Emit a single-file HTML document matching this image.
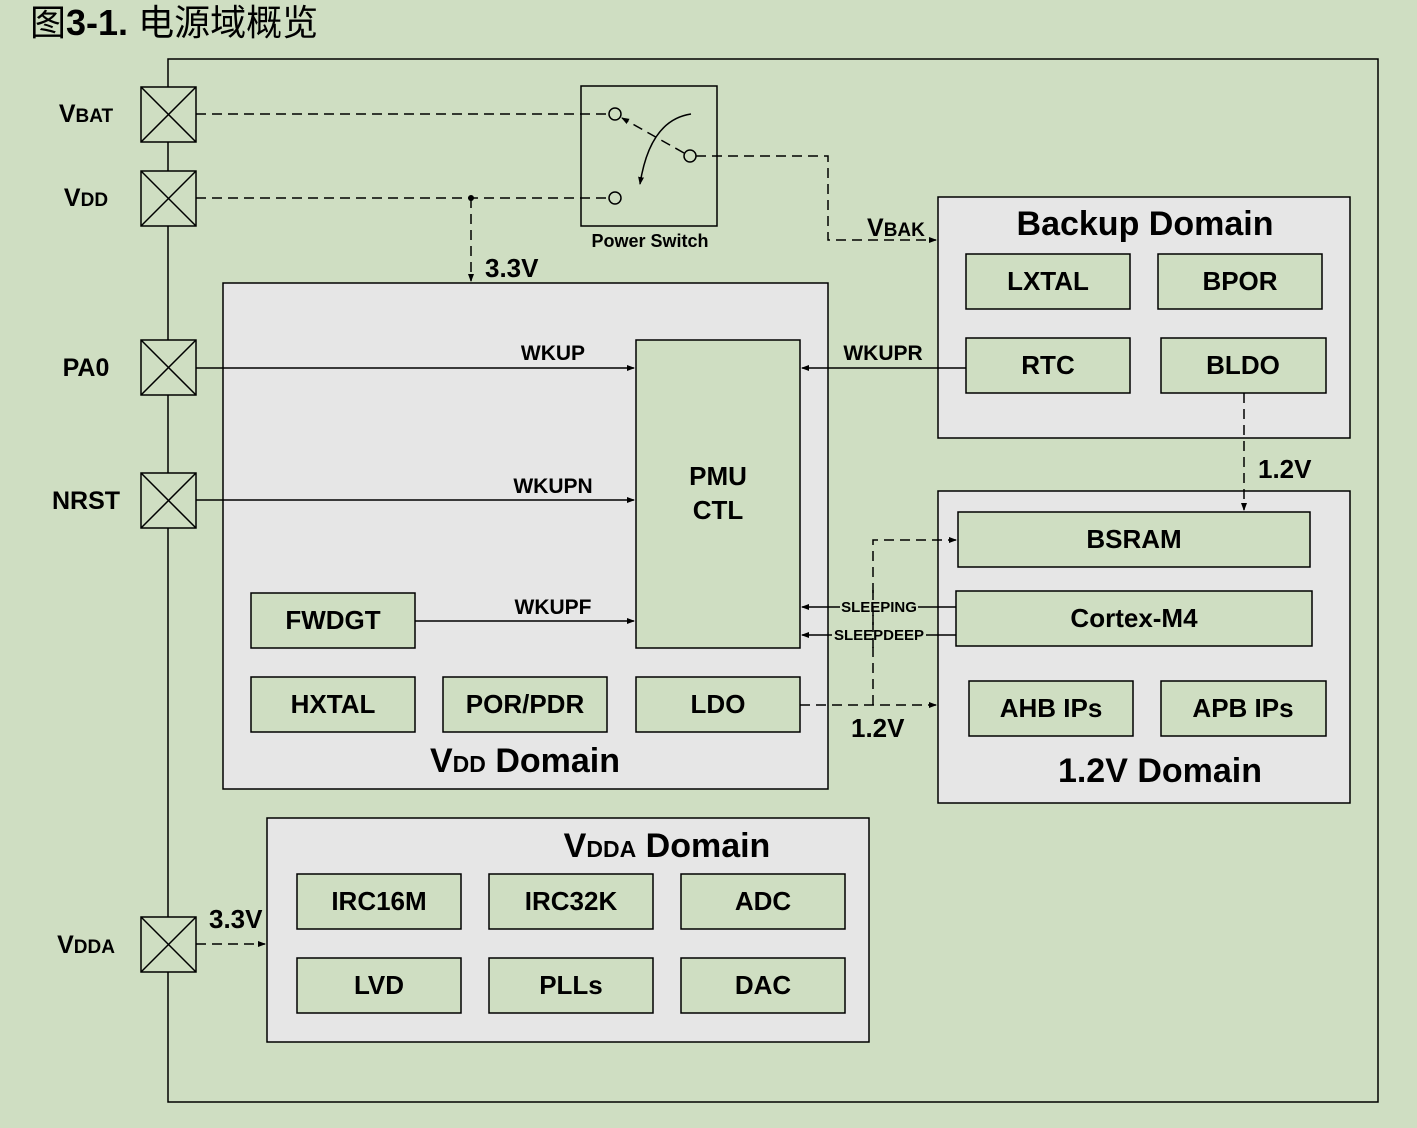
<!DOCTYPE html>
<html><head><meta charset="utf-8"><style>
html,body{margin:0;padding:0;background:#cfdec2;}
svg{display:block}
text{font-family:"Liberation Sans","Noto Sans CJK SC",sans-serif;font-weight:bold;fill:#000;}
</style></head><body>
<svg width="1417" height="1128" viewBox="0 0 1417 1128" xmlns="http://www.w3.org/2000/svg">
<defs>
<marker id="a" markerWidth="8" markerHeight="8" refX="7" refY="4" orient="auto" markerUnits="userSpaceOnUse"><path d="M0,1 L8,4 L0,7 z" fill="#000"/></marker>
</defs>
<rect width="1417" height="1128" fill="#cfdec2"/>
<text x="30" y="35" font-size="36" style="font-weight:normal">图<tspan style="font-weight:bold">3-1.</tspan> 电源域概览</text>

<g stroke="#000" stroke-width="1.5" fill="none">
<rect x="168" y="59" width="1210" height="1043"/>
</g>
<g stroke="#000" stroke-width="1.5" fill="#e6e6e6">
<rect x="223" y="283" width="605" height="506"/>
<rect x="938" y="197" width="412" height="241"/>
<rect x="938" y="491" width="412" height="312"/>
<rect x="267" y="818" width="602" height="224"/>
</g>
<g stroke="#000" stroke-width="1.5" fill="#cfdec2">
<rect x="141" y="87" width="55" height="55"/><path d="M141,87 L196,142 M196,87 L141,142"/>
<rect x="141" y="171" width="55" height="55"/><path d="M141,171 L196,226 M196,171 L141,226"/>
<rect x="141" y="340" width="55" height="55"/><path d="M141,340 L196,395 M196,340 L141,395"/>
<rect x="141" y="473" width="55" height="55"/><path d="M141,473 L196,528 M196,473 L141,528"/>
<rect x="141" y="917" width="55" height="55"/><path d="M141,917 L196,972 M196,917 L141,972"/>
</g>
<g font-size="25" text-anchor="middle">
<text x="86" y="122">V<tspan font-size="19">BAT</tspan></text>
<text x="86" y="206">V<tspan font-size="19">DD</tspan></text>
<text x="86" y="376">PA0</text>
<text x="86" y="509">NRST</text>
<text x="86" y="953">V<tspan font-size="19">DDA</tspan></text>
</g>
<g stroke="#000" stroke-width="1.5" fill="#cfdec2">
<rect x="581" y="86" width="136" height="140"/>
<rect x="636" y="340" width="164" height="308"/>
<rect x="966" y="254" width="164" height="55"/>
<rect x="1158" y="254" width="164" height="55"/>
<rect x="966" y="338" width="164" height="55"/>
<rect x="1161" y="338" width="165" height="55"/>
<rect x="958" y="512" width="352" height="55"/>
<rect x="956" y="591" width="356" height="55"/>
<rect x="969" y="681" width="164" height="55"/>
<rect x="1161" y="681" width="165" height="55"/>
<rect x="251" y="593" width="164" height="55"/>
<rect x="251" y="677" width="164" height="55"/>
<rect x="443" y="677" width="164" height="55"/>
<rect x="636" y="677" width="164" height="55"/>
<rect x="297" y="874" width="164" height="55"/>
<rect x="489" y="874" width="164" height="55"/>
<rect x="681" y="874" width="164" height="55"/>
<rect x="297" y="958" width="164" height="55"/>
<rect x="489" y="958" width="164" height="55"/>
<rect x="681" y="958" width="164" height="55"/>
</g>
<g font-size="26" text-anchor="middle">
<text x="1048" y="290">LXTAL</text>
<text x="1240" y="290">BPOR</text>
<text x="1048" y="374">RTC</text>
<text x="1243" y="374">BLDO</text>
<text x="1134" y="548">BSRAM</text>
<text x="1134" y="627">Cortex-M4</text>
<text x="1051" y="717">AHB IPs</text>
<text x="1243" y="717">APB IPs</text>
<text x="333" y="629">FWDGT</text>
<text x="333" y="713">HXTAL</text>
<text x="525" y="713">POR/PDR</text>
<text x="718" y="713">LDO</text>
<text x="379" y="910">IRC16M</text>
<text x="571" y="910">IRC32K</text>
<text x="763" y="910">ADC</text>
<text x="379" y="994">LVD</text>
<text x="571" y="994">PLLs</text>
<text x="763" y="994">DAC</text>
<text x="718" y="485">PMU</text>
<text x="718" y="519">CTL</text>
</g>
<g font-size="34" text-anchor="middle">
<text x="1145" y="235">Backup Domain</text>
<text x="1160" y="782">1.2V Domain</text>
<text x="525" y="772">V<tspan font-size="23">DD</tspan> Domain</text>
<text x="667" y="857">V<tspan font-size="23">DDA</tspan> Domain</text>
</g>
<text x="650" y="247" font-size="18" text-anchor="middle">Power Switch</text>
<g stroke="#000" stroke-width="1.5" fill="#cfdec2">
<circle cx="615" cy="114" r="6"/><circle cx="690" cy="156" r="6"/><circle cx="615" cy="198" r="6"/>
</g>
<g stroke="#000" stroke-width="1.5" fill="none">
<path d="M684,153 L622,118" stroke-dasharray="10,6" marker-end="url(#a)"/>
<path d="M691,114 Q650,120 640,184" marker-end="url(#a)"/>
</g>
<g stroke="#000" stroke-width="1.5" fill="none" stroke-dasharray="10,6">
<path d="M196,114 L609,114"/>
<path d="M196,198 L609,198"/>
<path d="M696,156 L828,156 L828,240 L936,240" marker-end="url(#a)"/>
<path d="M471,198 L471,281" marker-end="url(#a)"/>
<path d="M1244,393 L1244,510" marker-end="url(#a)"/>
<path d="M800,705 L936,705" marker-end="url(#a)"/>
<path d="M873,705 L873,540 L956,540" marker-end="url(#a)"/>
<path d="M196,944 L265,944" marker-end="url(#a)"/>
</g>
<circle cx="471" cy="198" r="3" fill="#000"/>
<g stroke="#000" stroke-width="1.5" fill="none">
<path d="M196,368 L634,368" marker-end="url(#a)"/>
<path d="M196,500 L634,500" marker-end="url(#a)"/>
<path d="M415,621 L634,621" marker-end="url(#a)"/>
<path d="M966,368 L802,368" marker-end="url(#a)"/>
<path d="M956,607 L802,607" marker-end="url(#a)"/>
<path d="M956,635 L802,635" marker-end="url(#a)"/>
</g>
<g font-size="21" text-anchor="middle">
<text x="553" y="360">WKUP</text>
<text x="553" y="493">WKUPN</text>
<text x="553" y="614">WKUPF</text>
<text x="883" y="360">WKUPR</text>
</g>
<g font-size="15" text-anchor="middle">
<rect x="840" y="598" width="78" height="16" fill="#cfdec2"/>
<text x="879" y="612">SLEEPING</text>
<rect x="832" y="626" width="94" height="16" fill="#cfdec2"/>
<text x="879" y="640">SLEEPDEEP</text>
</g>
<path d="M873,590 L873,650" stroke="#000" stroke-width="1.5" stroke-dasharray="10,6"/>
<g font-size="26">
<text x="485" y="277">3.3V</text>
<text x="1258" y="478">1.2V</text>
<text x="851" y="737">1.2V</text>
<text x="209" y="928">3.3V</text>
<text x="867" y="236" font-size="25">V<tspan font-size="19">BAK</tspan></text>
</g>
</svg>
</body></html>
